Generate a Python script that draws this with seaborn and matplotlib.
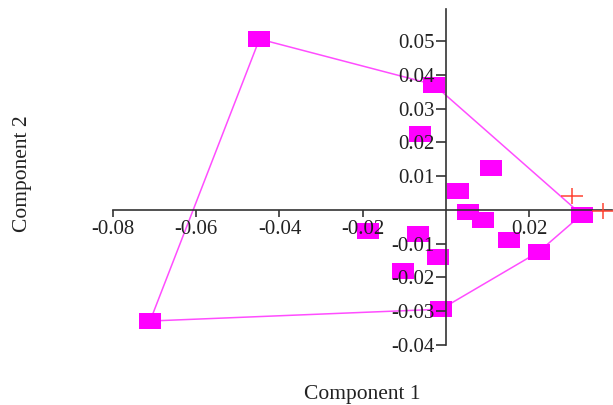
import numpy as np
import matplotlib
matplotlib.use("Agg")
import matplotlib.pyplot as plt
from matplotlib.path import Path
import seaborn as sns

# scores
comp1 = [-0.0448, -0.0711, -0.0029, -0.0062, 0.0108, 0.0029, 0.0053, 0.0089,
         0.0326, 0.0151, 0.0223, -0.0067, -0.0019, -0.0103, -0.0187, -0.0012]
comp2 = [0.0506, -0.0329, 0.0371, 0.0226, 0.0124, 0.0056, -0.0006, -0.0029,
         -0.0014, -0.0088, -0.0124, -0.0071, -0.0138, -0.0182, -0.0062, -0.0294]

# red crosses
cross1 = [0.0304, 0.0378]
cross2 = [0.0041, -0.0003]

xticks = [-0.08, -0.06, -0.04, -0.02, 0.02]
yticks = [-0.04, -0.03, -0.02, -0.01, 0.01, 0.02, 0.03, 0.04, 0.05]


def convex_hull(xs, ys):
    pts = sorted(set(zip(xs, ys)))

    def cross(o, a, b):
        return (a[0] - o[0]) * (b[1] - o[1]) - (a[1] - o[1]) * (b[0] - o[0])

    lower, upper = [], []
    for p in pts:
        while len(lower) >= 2 and cross(lower[-2], lower[-1], p) <= 0:
            lower.pop()
        lower.append(p)
    for p in reversed(pts):
        while len(upper) >= 2 and cross(upper[-2], upper[-1], p) <= 0:
            upper.pop()
        upper.append(p)
    hull = lower[:-1] + upper[:-1]
    hull.append(hull[0])
    return [p[0] for p in hull], [p[1] for p in hull]


sns.set_style("white")
plt.rcParams["font.family"] = ["Liberation Serif", "DejaVu Serif"]

fig = plt.figure(figsize=(6.13, 4.05), dpi=100)
ax = fig.add_axes([113 / 613, 60 / 405, 499 / 613, 336 / 405])
ax.set_axisbelow(False)

hx, hy = convex_hull(comp1, comp2)
ax.plot(hx, hy, color="#ff4dff", lw=1.1, zorder=1)

rect = [(-1.5, -1), (1.5, -1), (1.5, 1), (-1.5, 1)]
sns.scatterplot(x=comp1, y=comp2, marker=rect, s=272, color="#ff00ff",
                linewidth=0, ax=ax, zorder=2, legend=False)

plus = Path([(-1.4, 0), (1.4, 0), (0, -1), (0, 1)],
            [Path.MOVETO, Path.LINETO, Path.MOVETO, Path.LINETO])
ax.plot(cross1, cross2, ls="none", marker=plus, markersize=16,
        markeredgecolor="#ff4433", markeredgewidth=1.1, zorder=4, clip_on=False)

ax.set_xlim(-0.08, 0.0399)
ax.set_ylim(-0.04, 0.0595)

for s in ["top", "right"]:
    ax.spines[s].set_visible(False)
for s in ["left", "bottom"]:
    ax.spines[s].set_position(("data", 0))
    ax.spines[s].set_color("#333333")
    ax.spines[s].set_linewidth(1.2)

ax.set_xticks(xticks)
ax.set_xticklabels([f"{v:.2f}" for v in xticks])
ax.set_yticks(yticks)
ax.set_yticklabels([f"{v:.2f}" for v in yticks])
ax.tick_params(axis="x", bottom=True, direction="out", length=5, width=1.2,
               color="#333333", labelsize=15, labelcolor="#222222", pad=2)
ax.tick_params(axis="y", left=True, direction="out", length=7, width=1.2,
               color="#333333", labelsize=15, labelcolor="#222222", pad=1)

ax.set_xlabel("Component 1", fontsize=15.5, color="#222222")
ax.xaxis.label.set_va("baseline")
ax.xaxis.set_label_coords(0.5, -0.161)
ax.set_ylabel("Component 2", fontsize=15.5, color="#222222")
ax.yaxis.label.set_va("center")
ax.yaxis.set_label_coords(-0.182, 0.51)

fig.savefig("out.png", dpi=100)
